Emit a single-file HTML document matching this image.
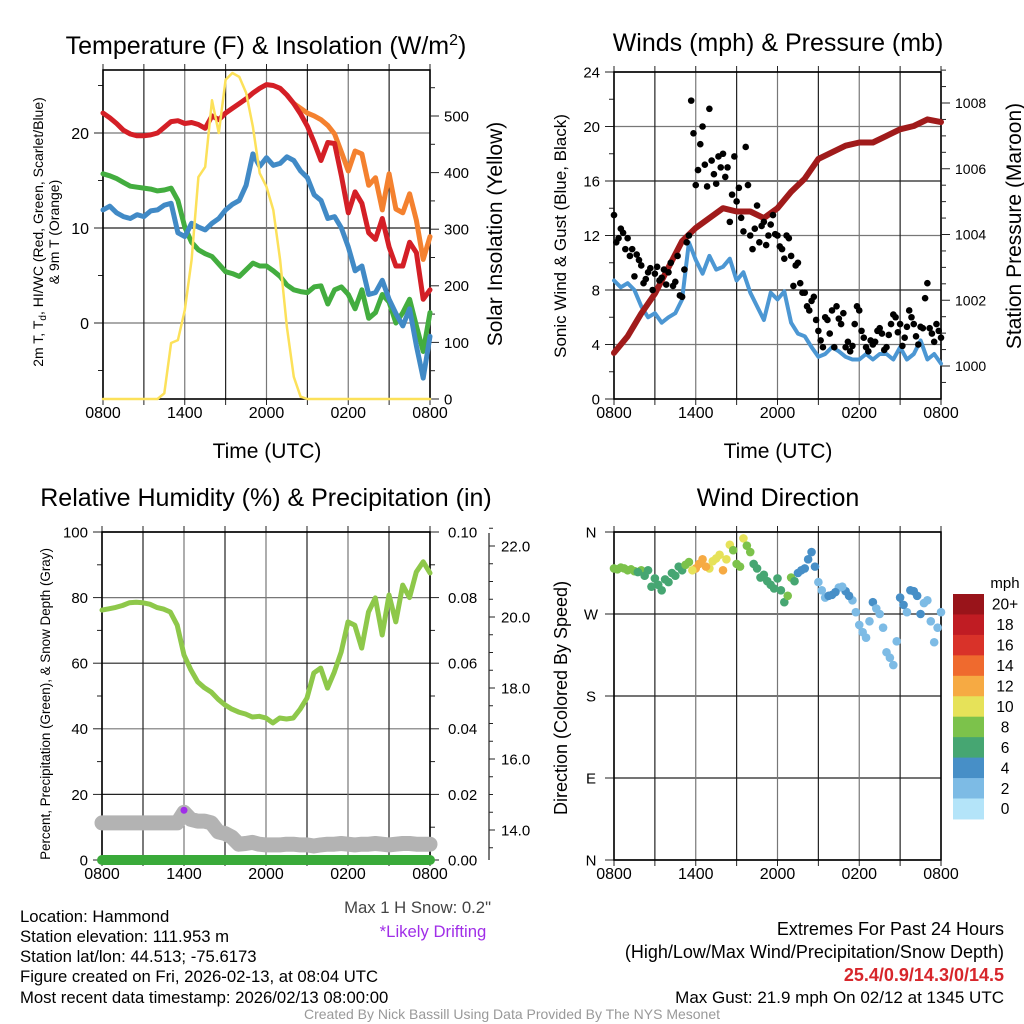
<!DOCTYPE html>
<html><head><meta charset="utf-8"><style>
html,body{margin:0;padding:0;background:#fff;}
svg{display:block;font-family:"Liberation Sans",Arial,sans-serif;}
</style></head><body>
<svg id="fig" xmlns="http://www.w3.org/2000/svg" width="1024" height="1024" viewBox="0 0 1024 1024">
<rect width="1024" height="1024" fill="#fff"/>
<g id="p1"></g>
<g id="p2"></g>
<g id="p3"></g>
<g id="p4"></g>

<text x="266" y="54" font-size="25" text-anchor="middle">Temperature (F) &amp; Insolation (W/m<tspan dy="-9" font-size="16">2</tspan><tspan dy="9">)</tspan></text>
<text x="778" y="51" font-size="25" text-anchor="middle">Winds (mph) &amp; Pressure (mb)</text>
<text x="266" y="506" font-size="25" text-anchor="middle">Relative Humidity (%) &amp; Precipitation (in)</text>
<text x="778" y="506" font-size="25" text-anchor="middle">Wind Direction</text>

<text x="267" y="458" font-size="21" text-anchor="middle">Time (UTC)</text>
<text x="778" y="458" font-size="21" text-anchor="middle">Time (UTC)</text>

<text transform="translate(43,232) rotate(-90)" font-size="14" text-anchor="middle">2m T, T<tspan dy="3" font-size="10">d</tspan><tspan dy="-3">, HI/WC (Red, Green, Scarlet/Blue)</tspan></text>
<text transform="translate(59,232) rotate(-90)" font-size="14" text-anchor="middle">&amp; 9m T (Orange)</text>
<text transform="translate(502,234) rotate(-90)" font-size="21" text-anchor="middle">Solar Insolation (Yellow)</text>
<text transform="translate(566,236) rotate(-90)" font-size="17" text-anchor="middle">Sonic Wind &amp; Gust (Blue, Black)</text>
<text transform="translate(1021,226) rotate(-90)" font-size="21" text-anchor="middle">Station Pressure (Maroon)</text>
<text transform="translate(50,704) rotate(-90)" font-size="13.4" text-anchor="middle">Percent, Precipitation (Green), &amp; Snow Depth (Gray)</text>
<text transform="translate(567,698) rotate(-90)" font-size="18" text-anchor="middle">Direction (Colored By Speed)</text>

<text x="491" y="913" font-size="16.7" fill="#444" text-anchor="end">Max 1 H Snow: 0.2"</text>
<text x="433" y="937" font-size="16.7" fill="#a02ee8" text-anchor="middle">*Likely Drifting</text>

<g font-size="16.7">
<text x="20" y="922">Location: Hammond</text>
<text x="20" y="942">Station elevation: 111.953 m</text>
<text x="20" y="962">Station lat/lon: 44.513; -75.6173</text>
<text x="20" y="982">Figure created on Fri, 2026-02-13, at 08:04 UTC</text>
<text x="20" y="1003">Most recent data timestamp: 2026/02/13 08:00:00</text>
</g>
<g font-size="18" text-anchor="end">
<text x="1004" y="935">Extremes For Past 24 Hours</text>
<text x="1004" y="958">(High/Low/Max Wind/Precipitation/Snow Depth)</text>
<text x="1004" y="981" fill="#d7262b" font-weight="bold">25.4/0.9/14.3/0/14.5</text>
<text x="1004" y="1003" font-size="17">Max Gust: 21.9 mph On 02/12 at 1345 UTC</text>
</g>
<text x="512" y="1019" font-size="14" fill="#999" text-anchor="middle">Created By Nick Bassill Using Data Provided By The NYS Mesonet</text>
</svg>
<script>
// ---- data (half-hour steps from 0800 UTC unless noted) ----
const timeLabels = ["0800","1400","2000","0200","0800"];
const tempRed = [22.1,21.6,21.0,20.3,19.9,19.7,19.7,19.8,20.0,20.6,21.2,21.3,21.0,21.1,20.9,20.5,21.8,21.4,22.1,22.6,23.1,23.6,24.2,24.7,25.1,25.0,24.7,24.0,23.1,22.0,20.7,19.0,17.1,19.0,18.9,15.5,11.6,13.8,12.6,9.5,8.8,11.0,8.0,6.0,6.0,8.5,7.4,2.5,3.5];
const tempOrange = [null,null,null,null,null,null,null,null,null,null,null,null,null,null,null,null,null,null,null,null,null,null,null,null,null,null,null,null,23.1,22.6,22.1,21.8,21.4,20.8,19.9,18.0,16.0,18.1,17.8,14.5,15.3,11.9,15.7,12.0,11.6,13.6,10.8,6.7,9.1];
const dewGreen = [15.7,15.5,15.2,14.8,14.4,14.3,14.2,14.1,13.9,14.0,14.2,12.9,10.1,8.5,7.7,7.3,7.0,6.2,5.4,5.2,4.9,5.6,6.3,6.0,6.0,5.5,4.9,4.0,3.5,3.3,3.2,3.8,3.9,2.0,3.5,3.8,3.0,1.5,3.5,0.5,1.1,3.0,2.2,0.0,1.1,2.5,-0.3,-3.0,1.1];
const chillBlue = [11.9,12.3,11.6,11.2,11.0,11.4,11.2,11.8,11.9,12.4,12.6,9.5,9.1,10.5,10.1,9.8,10.5,11.0,11.9,12.5,12.9,14.5,17.8,16.5,17.4,16.6,16.8,17.5,17.1,16.0,15.3,13.5,12.9,11.0,11.2,10.0,8.0,5.5,6.0,3.0,3.2,4.5,2.5,1.0,-0.3,1.5,-2.4,-5.8,-1.4];
const solar = [0,0,0,0,0,0,0,0,0,10,99,104,157,246,392,410,528,470,564,576,569,541,481,399,375,334,246,127,39,4,0,0,0,0,0,0,0,0,0,0,0,0,0,0,0,0,0,0,0];
const windSpeed = [8.7,8.2,8.5,8.0,6.8,6.0,6.3,5.6,6.0,6.3,7.3,11.5,10.2,9.2,10.5,9.5,9.7,10.3,8.7,9.3,7.8,6.8,5.8,7.8,7.3,7.9,5.6,4.8,4.6,3.8,3.1,3.3,3.8,3.5,3.1,2.9,2.9,3.3,2.9,3.3,3.3,2.9,3.8,2.9,3.3,4.3,2.9,3.3,2.6];
// gusts every 20 minutes, and a second set offset by 10 minutes
const windGust = [13.5,11.8,12.2,11.8,11.0,10.6,9.8,8.8,9.6,9.2,8.7,9.5,9.3,8.3,10.5,7.5,11.5,21.9,15.7,18.7,17.2,21.3,16.5,17.8,18.0,17.0,15.0,14.5,13.3,18.5,12.0,12.5,11.5,13.0,12.0,13.5,12.0,11.0,12.0,10.5,9.8,8.5,7.8,6.5,7.5,5.0,3.8,5.8,6.5,6.8,5.5,3.8,3.5,5.5,6.5,4.5,3.5,4.0,5.0,4.8,3.8,5.5,6.0,5.5,4.5,6.5,5.5,4.0,5.2,8.5,4.8,5.5,4.5];
const windGustB = [11.5,12.5,11.0,10.5,9.0,10.2,8.5,9.3,8.0,9.7,8.9,8.4,10.0,8.6,7.6,9.5,12.0,19.5,16.8,20.0,15.6,17.5,15.8,17.0,16.3,13.0,17.8,15.5,12.3,15.7,11.0,14.2,12.7,11.3,12.8,12.1,11.2,10.3,11.8,8.3,10.0,7.8,6.8,7.2,5.8,4.3,6.0,4.8,3.8,5.9,6.3,4.2,3.9,6.8,5.0,3.8,4.3,4.2,5.2,3.6,4.7,6.2,4.9,3.9,5.3,6.0,4.6,5.3,7.4,5.2,4.2,5.0];
// hourly pressure
const pressure = [1000.4,1000.9,1001.6,1002.2,1003.0,1003.8,1004.2,1004.5,1004.8,1004.7,1004.7,1004.5,1004.8,1005.3,1005.7,1006.3,1006.5,1006.7,1006.8,1006.8,1007.0,1007.2,1007.3,1007.5,1007.42];
const humidity = [76.2,76.6,77.0,77.6,78.4,78.6,78.4,78.0,77.0,76.5,75.6,71.6,62.5,58.0,54.3,52.5,51.2,49.0,47.3,46.0,45.1,44.5,43.6,43.8,43.3,41.8,43.3,43.0,43.3,46.0,49.4,57.0,58.5,52.4,57.3,63.4,72.6,71.6,64.6,75.6,79.9,68.6,80.8,72.6,83.8,80.0,87.8,90.9,87.5];
const precip = [0,0,0,0,0,0,0,0,0,0,0,0,0,0,0,0,0,0,0,0,0,0,0,0,0,0,0,0,0,0,0,0,0,0,0,0,0,0,0,0,0,0,0,0,0,0,0,0,0];
const snowDepth = [14.2,14.2,14.2,14.2,14.2,14.2,14.2,14.2,14.2,14.2,14.2,14.2,14.5,14.3,14.25,14.25,14.2,13.95,13.9,13.8,13.6,13.62,13.65,13.6,13.58,13.58,13.58,13.6,13.6,13.58,13.58,13.55,13.58,13.6,13.6,13.62,13.6,13.58,13.6,13.6,13.62,13.6,13.58,13.6,13.62,13.62,13.6,13.6,13.6];
const driftIndex = [12];
const windDir = [320,321,318,317,318,318,309,296,305,312,318,327,320,330,320,331,318,346,325,353,338,320,313,302,309,283,310,315,320,338,305,288,291,299,295,285,258,244,283,270,228,214,288,272,295,270,285,239,272];
const dirSpeed = [8.5,8.5,8.5,8.5,8.5,6.5,6.5,6.5,6.5,6.5,7,9.5,13,12.5,11,10.5,12,10.5,9,10.5,8.5,7,6.5,7,6.5,7,8.5,4.5,5,4.5,3.5,3,4.5,3,4.5,3.5,2.5,3,4.5,3,2.5,3.5,4.5,3,4.5,5,3,2.5,3];
// second set of direction observations offset 15 minutes
const windDirB = [319,320,319,316,312,300,302,308,315,322,324,318,325,322,328,335,330,340,322,345,325,310,306,298,296,290,306,318,330,322,296,290,294,300,290,272,250,262,276,255,222,240,280,296,290,282,262,255];
const dirSpeedB = [8.5,8.5,8.5,7,6.5,6.5,6.5,6.5,6.5,7,8.5,11,12.5,12,10.5,11,10.5,9,8.5,9,7,6.5,7,7,6.5,8.5,7,5,4.5,4.5,3.5,4.5,4.5,3.5,4.5,3,2.5,2.5,3,2.5,2.5,3,4.5,4.5,4.5,3,2.5,3];
const speedBins = ["0","2","4","6","8","10","12","14","16","18","20+"];
const speedColors = ["#b4e4f9","#7dbbe5","#478fc7","#46a672","#7cc24b","#e6e259","#f6aa43","#ef6a2e","#d93229","#c01c23","#99141a"];
const tempTicks = [0,10,20], solarTicks=[0,100,200,300,400,500];
const windTicks = [0,4,8,12,16,20,24], presTicks=[1000,1002,1004,1006,1008];
const rhTicks = [0,20,40,60,80,100], precipTicks=["0.00","0.02","0.04","0.06","0.08","0.10"];
const snowTicks = ["14.0","16.0","18.0","20.0","22.0"];
const dirTicks = ["N","E","S","W","N"];

const NS="http://www.w3.org/2000/svg";
function mk(parent,tag,attrs){const e=document.createElementNS(NS,tag);for(const k in attrs)e.setAttribute(k,attrs[k]);parent.appendChild(e);return e;}
function lin(d0,d1,r0,r1){return v=>r0+(v-d0)*(r1-r0)/(d1-d0);}

function frame(g,L,R,T,B,name){
  for(let i=0;i<=8;i++){const x=L+(R-L)*i/8;
    const gl=mk(g,'line',{x1:x,x2:x,y1:T,y2:B,stroke:i%2?'#222':'#777','stroke-width':1.2});
    
    const tk=mk(g,'line',{x1:x,x2:x,y1:B,y2:B+6,stroke:'#222','stroke-width':1});
    
    const tt=mk(g,'line',{x1:x,x2:x,y1:T-6,y2:T,stroke:'#222','stroke-width':1});
    }
  const fr=mk(g,'rect',{x:L,y:T,width:R-L,height:B-T,fill:'none',stroke:'#000','stroke-width':1.6});
  
  timeLabels.forEach((s,i)=>{const t=mk(g,'text',{x:L+(R-L)*i/4,y:B+19,'font-size':16,'text-anchor':'middle'});t.textContent=s;
    });
}
function hgrid(g,L,R,y,dark){const l=mk(g,'line',{x1:L,x2:R,y1:y,y2:y,stroke:dark?'#222':'#777','stroke-width':1.2});
  }
function tick(g,x1,x2,y){const l=mk(g,'line',{x1:x1,x2:x2,y1:y,y2:y,stroke:'#222','stroke-width':1});
  }
function label(g,x,y,s,anchor,size){const sz=size||16;const t=mk(g,'text',{x:x,y:y+sz*0.36,'font-size':sz,'text-anchor':anchor});t.textContent=s;
  return t;}
function line(g,vals,step,xs,ys,color,w,name){
  let d='',pen=false;
  vals.forEach((v,i)=>{if(v===null||v===undefined){pen=false;return;}d+=(pen?'L':'M')+xs(i*step).toFixed(1)+','+ys(v).toFixed(1);pen=true;});
  const p=mk(g,'path',{d:d,fill:'none',stroke:color,'stroke-width':w,'stroke-linejoin':'round','stroke-linecap':'round'});
  return p;}

// ---- Panel 1 ----
(function(){
  const g=document.getElementById('p1');const L=103,R=430,T=70,B=399;
  const xs=lin(0,24,L,R), ys=lin(0,20,323,133), ys2=lin(0,500,399,116);
  tempTicks.forEach(v=>{hgrid(g,L,R,ys(v),v===10);tick(g,L-9,L,ys(v));label(g,L-14,ys(v),String(v),'end');});
  [-5,5,15,25].forEach(v=>tick(g,L-5,L,ys(v)));
  frame(g,L,R,T,B,'temperature');
  solarTicks.forEach(v=>{tick(g,R,R+9,ys2(v));label(g,R+14,ys2(v),String(v),'start',15);});
  [50,150,250,350,450,550].forEach(v=>tick(g,R,R+5,ys2(v)));
  line(g,tempOrange,0.5,xs,ys,'#f4812f',5,'series-9m-temp-orange');
  line(g,dewGreen,0.5,xs,ys,'#43ad3f',5,'series-dewpoint-green');
  line(g,chillBlue,0.5,xs,ys,'#418ac6',5,'series-windchill-blue');
  line(g,tempRed,0.5,xs,ys,'#d41f26',5,'series-2m-temp-red');
  line(g,solar,0.5,xs,ys2,'#fce15a',2.5,'series-solar-yellow');
})();

// ---- Panel 2 ----
(function(){
  const g=document.getElementById('p2');const L=614,R=941,T=72,B=399;
  const xs=lin(0,24,L,R), ys=lin(0,24,B,T), yp=lin(1000,1008,366,103);
  windTicks.forEach(v=>{hgrid(g,L,R,ys(v),v%8===0);tick(g,L-9,L,ys(v));label(g,L-14,ys(v),String(v),'end',15);});
  [2,6,10,14,18,22].forEach(v=>tick(g,L-5,L,ys(v)));
  frame(g,L,R,T,B,'winds');
  presTicks.forEach(v=>{tick(g,R,R+9,yp(v));label(g,R+14,yp(v),String(v),'start',14);});
  for(let v=999.5;v<=1009;v+=0.5){if(v%2!==0)tick(g,R,R+5,yp(v));}
  line(g,windSpeed,0.5,xs,ys,'#4c97d3',4,'series-sonic-wind-blue');
  line(g,pressure,1,xs,yp,'#a01b1b',6,'series-pressure-maroon');
  windGust.forEach((v,i)=>{const c=mk(g,'circle',{cx:xs(i/3),cy:ys(v),r:3.3,fill:'#000'});
    });
  windGustB.forEach((v,i)=>{const c=mk(g,'circle',{cx:xs(i/3+1/6),cy:ys(v),r:3.3,fill:'#000'});
    });
})();

// ---- Panel 3 ----
(function(){
  const g=document.getElementById('p3');const L=102,R=430,T=532,B=860;
  const xs=lin(0,24,L,R), ys=lin(0,100,B,T), ysn=lin(14,22,830,546);
  rhTicks.forEach((v,i)=>{hgrid(g,L,R,ys(v),i%2===1);tick(g,L-9,L,ys(v));label(g,L-14,ys(v),String(v),'end',15);
    tick(g,R,R+9,ys(v));label(g,R+18,ys(v),precipTicks[i],'start',15);});
  [10,30,50,70,90].forEach(v=>{tick(g,L-5,L,ys(v));tick(g,R,R+5,ys(v));});
  frame(g,L,R,T,B,'humidity');
  const ax=mk(g,'line',{x1:489,x2:489,y1:533,y2:860,stroke:'#222','stroke-width':1.2});
  
  snowTicks.forEach(s=>{const y=ysn(parseFloat(s));tick(g,489,495,y);label(g,501,y,s,'start',15);});
  for(let v=13.5;v<=22.5;v+=0.5){if(v%2!==0)tick(g,489,493,ysn(v));}
  line(g,snowDepth,0.5,xs,ysn,'#b3b3b3',15,'series-snow-depth-gray');
  line(g,precip,0.5,xs,v=>ys(v*1000),'#3aaa3a',10,'series-precip-green');
  line(g,humidity,0.5,xs,ys,'#8ec84a',5,'series-humidity-green');
  driftIndex.forEach(i=>{const c=mk(g,'circle',{cx:xs(i*0.5),cy:ysn(snowDepth[i])-2,r:3.5,fill:'#a02ee8'});
    });
})();

// ---- Panel 4 ----
(function(){
  const g=document.getElementById('p4');const L=614,R=941,T=532,B=860;
  const xs=lin(0,24,L,R), yd=lin(0,360,B,T);
  dirTicks.forEach((s,i)=>{const y=yd(i*90);hgrid(g,L,R,y,true);tick(g,L-9,L,y);label(g,L-23,y,s,'middle',15);});
  frame(g,L,R,T,B,'wind-direction');
  function col(s){let k=Math.floor(s/2);if(k>10)k=10;if(k<0)k=0;return speedColors[k];}
  windDir.forEach((d,i)=>{const c=mk(g,'circle',{cx:xs(i*0.5),cy:yd(d),r:4.3,fill:col(dirSpeed[i])});
    });
  windDirB.forEach((d,i)=>{const c=mk(g,'circle',{cx:xs(i*0.5+0.25),cy:yd(d),r:4.3,fill:col(dirSpeedB[i])});
    });
  const top=594,h=20.45;
  const ct=mk(g,'text',{x:1005,y:588,'font-size':15,'text-anchor':'middle'});ct.textContent='mph';
  
  for(let i=0;i<11;i++){const j=10-i;const y=top+i*h;
    const r=mk(g,'rect',{x:953,y:y,width:31,height:h+0.5,fill:speedColors[j]});
    
    const t=mk(g,'text',{x:1005,y:y+h/2+5.5,'font-size':15.5,'text-anchor':'middle'});t.textContent=speedBins[j];
    }
})();
</script>
</body></html>
